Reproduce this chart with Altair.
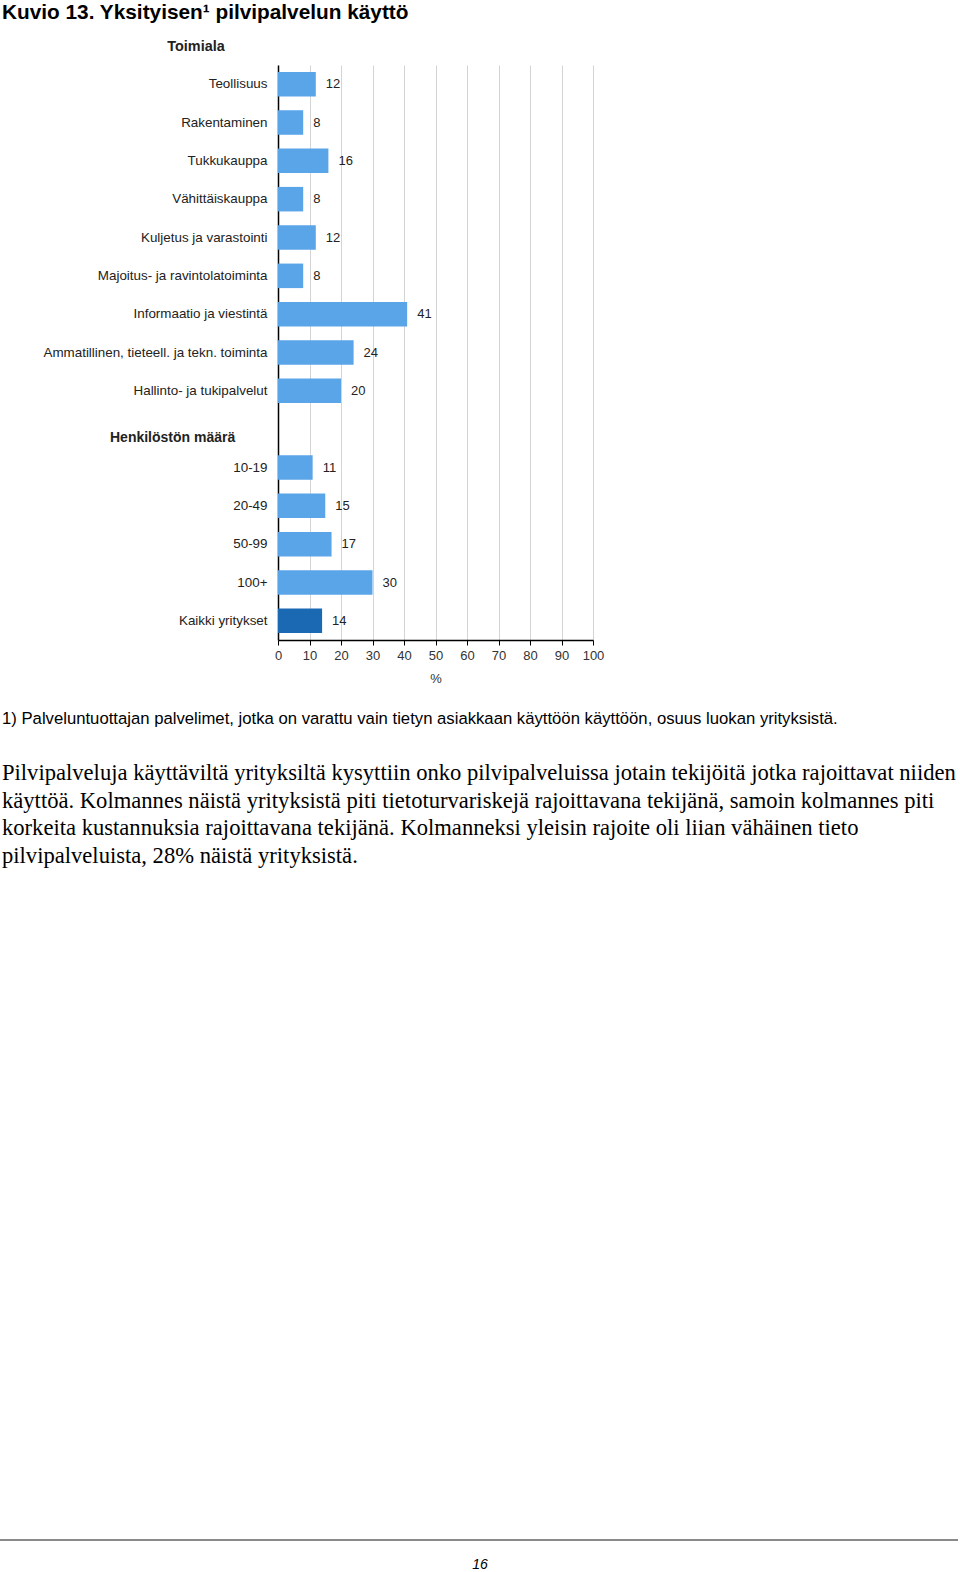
import altair as alt
import pandas as pd

# ---- data ----
categories = [
    "Teollisuus", "Rakentaminen", "Tukkukauppa", "Vähittäiskauppa",
    "Kuljetus ja varastointi", "Majoitus- ja ravintolatoiminta",
    "Informaatio ja viestintä", "Ammatillinen, tieteell. ja tekn. toiminta",
    "Hallinto- ja tukipalvelut", " ",
    "10-19", "20-49", "50-99", "100+", "Kaikki yritykset",
]
values = [12, 8, 16, 8, 12, 8, 41, 24, 20, None, 11, 15, 17, 30, 14]
x_ticks = [0, 10, 20, 30, 40, 50, 60, 70, 80, 90, 100]

title_text = "Kuvio 13. Yksityisen\u00b9 pilvipalvelun käyttö"
header_1 = "Toimiala"
header_2 = "Henkilöstön määrä"
footnote = ("1) Palveluntuottajan palvelimet, jotka on varattu vain tietyn asiakkaan "
            "käyttöön käyttöön, osuus luokan yrityksistä.")
paragraph_lines = [
    "Pilvipalveluja käyttäviltä yrityksiltä kysyttiin onko pilvipalveluissa jotain tekijöitä jotka rajoittavat niiden",
    "käyttöä. Kolmannes näistä yrityksistä piti tietoturvariskejä rajoittavana tekijänä, samoin kolmannes piti",
    "korkeita kustannuksia rajoittavana tekijänä. Kolmanneksi yleisin rajoite oli liian vähäinen tieto",
    "pilvipalveluista, 28% näistä yrityksistä.",
]
page_number = "16"

df = pd.DataFrame({"cat": categories, "val": values})
bars_df = df.dropna()

SANS = "Liberation Sans"
SERIF = "Liberation Serif"
LEFT = 278
TOP = 65
W = 315
H = 575

base = alt.Chart(bars_df)

y_axis = alt.Axis(title=None, ticks=False, labelPadding=11, labelFontSize=13.4, labelFont=SANS,
                  labelColor="#222222", domainColor="#000000", domainWidth=1.5, grid=False,
                  labelLimit=400)
y_scale = alt.Scale(domain=categories, paddingInner=0.36, paddingOuter=0.18)
x_axis = alt.Axis(values=x_ticks, tickCount=len(x_ticks) + 5, labelOverlap=False, labelFlush=False,
                  title="%", titleFont=SANS, titleFontSize=13,
                  titleFontWeight="normal", titleColor="#333333", titlePadding=10,
                  labelFont=SANS, labelFontSize=13, labelColor="#333333", labelPadding=4,
                  tickColor="#000000", tickSize=5, domainColor="#000000", domainWidth=1.5,
                  grid=True, gridColor="#d4d4d4", gridWidth=1)
x_scale = alt.Scale(domain=[0, 100], nice=False)

bars = base.mark_bar().encode(
    x=alt.X("val:Q", scale=x_scale, axis=x_axis),
    y=alt.Y("cat:N", sort=categories, scale=y_scale, axis=y_axis),
    color=alt.condition(alt.datum.cat == "Kaikki yritykset", alt.value("#1b68b3"), alt.value("#5aa4e8")),
)

labels = base.mark_text(align="left", baseline="middle", dx=10, font=SANS, fontSize=13,
                        color="#222222").encode(
    x=alt.X("val:Q", scale=x_scale, axis=x_axis),
    y=alt.Y("cat:N", sort=categories, scale=y_scale, axis=y_axis),
    text=alt.Text("val:Q", format="d"),
)

one = pd.DataFrame({"k": [0]})


def page_text(txt, x, y, **kw):
    return alt.Chart(one).mark_text(text=txt, **kw).encode(x=alt.value(x), y=alt.value(y))


texts = [
    page_text(title_text, 2 - LEFT, 19 - TOP, align="left", baseline="alphabetic", font=SANS,
              fontSize=20.8, fontWeight="bold", color="#000000"),
    page_text(header_1, 196 - LEFT, 47 - TOP, align="center", baseline="middle", font=SANS,
              fontSize=14.4, fontWeight="bold", color="#222222"),
    page_text(header_2, 110 - LEFT, 438 - TOP, align="left", baseline="middle", font=SANS,
              fontSize=14, fontWeight="bold", color="#222222"),
    page_text(footnote, 2 - LEFT, 724 - TOP, align="left", baseline="alphabetic", font=SANS,
              fontSize=16.7, color="#000000"),
    page_text(page_number, 480 - LEFT, 1569 - TOP, align="center", baseline="alphabetic", font=SANS,
              fontSize=14, fontStyle="italic", color="#000000"),
]
for i, line in enumerate(paragraph_lines):
    texts.append(page_text(line, 2 - LEFT, 780 - TOP + i * 27.5, align="left", baseline="alphabetic",
                           font=SERIF, fontSize=22.6, color="#000000"))

rule = alt.Chart(one).mark_rule(color="#8a8a8a", strokeWidth=2).encode(
    x=alt.value(0 - LEFT), x2=alt.value(958 - LEFT), y=alt.value(1540 - TOP))

chart = alt.layer(bars, labels, rule, *texts).properties(
    width=W, height=H,
    autosize=alt.AutoSizeParams(type="none"),
    padding={"left": LEFT, "top": TOP, "right": 960 - LEFT - W, "bottom": 1572 - TOP - H},
    background="white",
).configure_view(stroke=None)

chart.save("out.html", embed_options={"renderer": "svg", "actions": False})
